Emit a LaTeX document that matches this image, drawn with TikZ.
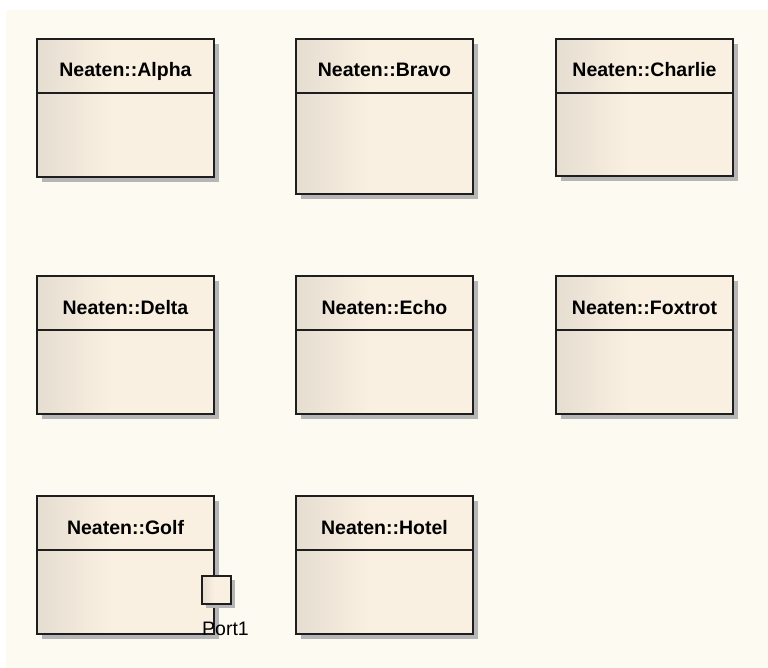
\documentclass[tikz,border=0pt]{standalone}
\usepackage{fontspec}
\setmainfont{Liberation Sans}
\usetikzlibrary{positioning,shadows}
\definecolor{canvascream}{RGB}{253,250,242}
\definecolor{boxleft}{RGB}{229,221,208}
\definecolor{boxright}{RGB}{250,240,226}
\definecolor{edgegray}{RGB}{30,30,30}
\definecolor{shadowgray}{RGB}{182,182,182}
\pgfdeclarehorizontalshading{classfill}{100bp}{color(0bp)=(boxleft); color(25bp)=(boxleft); color(46bp)=(boxright); color(100bp)=(boxright)}

\begin{document}
\begin{tikzpicture}[x=1pt, y=-1pt,
  classbox/.style={draw=edgegray, line width=1.8pt, shading=classfill, inner sep=0pt, outer sep=0pt, anchor=north west, minimum width=177pt, minimum height=138pt, drop shadow={shadow xshift=5pt, shadow yshift=-5pt, fill=shadowgray, opacity=1}},
  portbox/.style={draw=edgegray, line width=1.8pt, shading=classfill, inner sep=0pt, outer sep=0pt, minimum width=29pt, minimum height=28pt, drop shadow={shadow xshift=4pt, shadow yshift=-4pt, fill=shadowgray, opacity=1}},
  classname/.style={anchor=base, inner sep=0pt, font=\bfseries\fontsize{19.5}{22}\selectfont, text=black},
  portname/.style={anchor=base, inner sep=0pt, font=\fontsize{19.5}{22}\selectfont, text=black},
  sep/.style={edgegray, line width=1.8pt}
]
\useasboundingbox (0,0) rectangle (768,668);
\fill[canvascream] (6,10) rectangle (768,668);
% first row
\node[classbox] (alpha) at (37,39) {};
\node[classbox, minimum height=155pt, right=82pt of alpha.north east, anchor=north west] (bravo) {};
\node[classbox, minimum height=137pt, right=83pt of bravo.north east, anchor=north west] (charlie) {};
% second row
\node[classbox, below=99pt of alpha.south west, anchor=north west] (delta) {};
\node[classbox, right=82pt of delta.north east, anchor=north west] (echo) {};
\node[classbox, right=83pt of echo.north east, anchor=north west] (foxtrot) {};
% third row
\node[classbox, below=82pt of delta.south west, anchor=north west] (golf) {};
\node[classbox, right=82pt of golf.north east, anchor=north west] (hotel) {};
\foreach \n/\t in {alpha/Alpha,bravo/Bravo,charlie/Charlie,delta/Delta,echo/Echo,foxtrot/Foxtrot,golf/Golf,hotel/Hotel}{
  \draw[sep] ([yshift=-54pt]\n.north west) -- ([yshift=-54pt]\n.north east);
  \node[classname] (\n-name) at ([yshift=-38pt]\n.north) {Neaten::\t};
}
\node[portbox] (port) at ([xshift=2.5pt, yshift=44pt]golf.south east) {};
\node[portname] (port-name) at ([xshift=9pt, yshift=-31pt]port.south) {Port1};
\end{tikzpicture}
\end{document}
